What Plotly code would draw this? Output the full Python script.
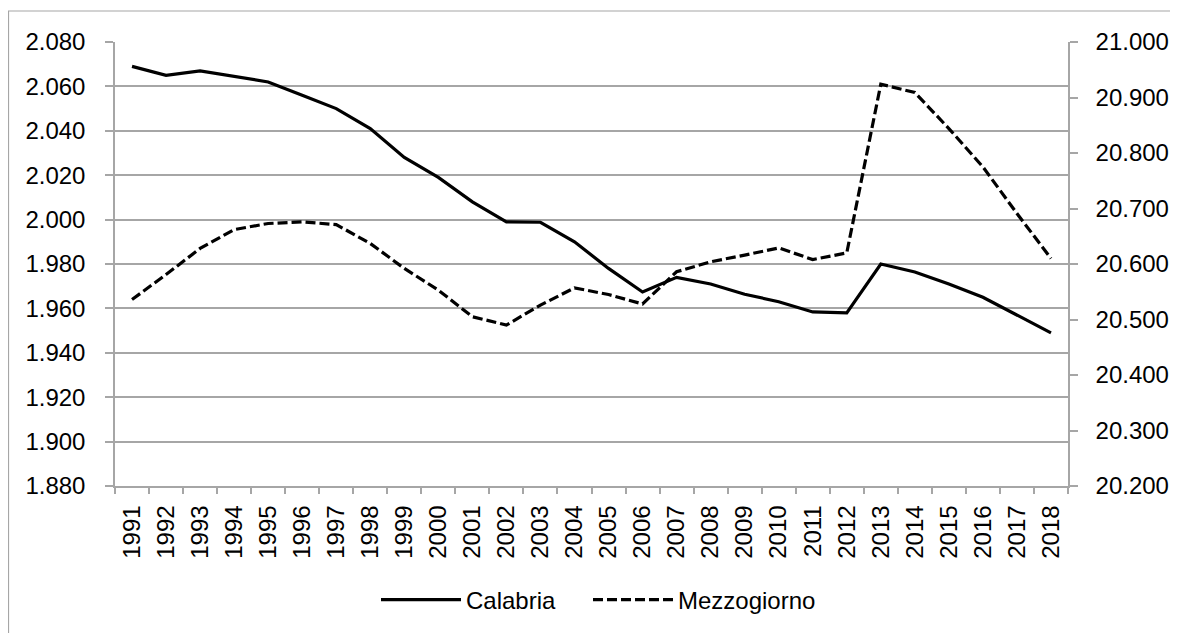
import plotly.graph_objects as go

years = [str(y) for y in range(1991, 2019)]
calabria = [2069, 2065, 2067, 2064.5, 2062, 2056, 2050, 2041, 2028, 2019,
            2008, 1999, 1998.8, 1990, 1978, 1967.4, 1974, 1971, 1966.4, 1963,
            1958.4, 1958, 1980, 1976.4, 1971, 1965, 1957, 1949]
mezzogiorno = [20536, 20581, 20628, 20662, 20673, 20676, 20671, 20637, 20592, 20553,
               20505, 20490, 20526, 20557, 20545, 20528, 20586, 20604, 20616, 20629,
               20608, 20620, 20924, 20909, 20844, 20775, 20691, 20610]

left_ticks = list(range(1880, 2081, 20))
right_ticks = list(range(20200, 21001, 100))

FONT = "Liberation Sans, Arial, sans-serif"
GRID = "#a6a6a6"

fig = go.Figure()
fig.add_trace(go.Scatter(x=years, y=calabria, name="Calabria", mode="lines",
                         legend="legend",
                         line=dict(color="black", width=3.2)))
fig.add_trace(go.Scatter(x=years, y=mezzogiorno, name="Mezzogiorno", mode="lines",
                         yaxis="y2", legend="legend2",
                         line=dict(color="black", width=3.2, dash="10px,4px")))

W, H = 1178, 633
L, T = 107, 34
pw, ph = 953, 444
R, B = W - L - pw, H - T - ph

leg_y = (ph - (592 - T)) / ph
leg_common = dict(orientation="h", xanchor="left", y=leg_y, yanchor="middle",
                  font=dict(size=24), itemwidth=80, bgcolor="rgba(0,0,0,0)")

fig.update_layout(
    width=W, height=H,
    margin=dict(l=L, r=R, t=T, b=B, pad=0),
    paper_bgcolor="white", plot_bgcolor="white",
    separators=",.",
    font=dict(family=FONT, size=24, color="#000000"),
    showlegend=True,
    legend=dict(x=(368 - L) / pw, **leg_common),
    legend2=dict(x=(580 - L) / pw, **leg_common),
    xaxis=dict(type="category", tickangle=-90, showgrid=False,
               showline=True, linecolor=GRID, linewidth=1.5,
               ticks="outside", ticklen=6, tickcolor=GRID, tickwidth=1.5,
               tickson="boundaries", range=[-0.5, 27.5], ticklabelstandoff=8,
               tickfont=dict(size=24), fixedrange=True),
    yaxis=dict(range=[1880, 2080], tickvals=left_ticks, tickformat=",.0f",
               showgrid=True, gridcolor=GRID, gridwidth=1.5,
               showline=True, linecolor=GRID, linewidth=1.5,
               ticks="outside", ticklen=8, tickcolor=GRID, tickwidth=1.5,
               ticklabelstandoff=15,
               zeroline=False, tickfont=dict(size=24)),
    yaxis2=dict(range=[20200, 21000], tickvals=right_ticks, tickformat=",.0f",
                overlaying="y", side="right", showgrid=False,
                showline=True, linecolor=GRID, linewidth=1.5,
                ticks="outside", ticklen=8, tickcolor=GRID, tickwidth=1.5,
                ticklabelstandoff=13,
                zeroline=False, tickfont=dict(size=24)),
)

# outer chart border (only top and left edges fall inside the window)
fig.add_shape(type="rect", xref="paper", yref="paper",
              x0=(0.5 - L) / pw, x1=(W + 10 - L) / pw,
              y0=(ph - (H + 10 - T)) / ph, y1=(ph - (3 - T)) / ph,
              line=dict(color="#a6a6a6", width=1.2), fillcolor="rgba(0,0,0,0)",
              layer="below")

fig.write_html("out.html")
